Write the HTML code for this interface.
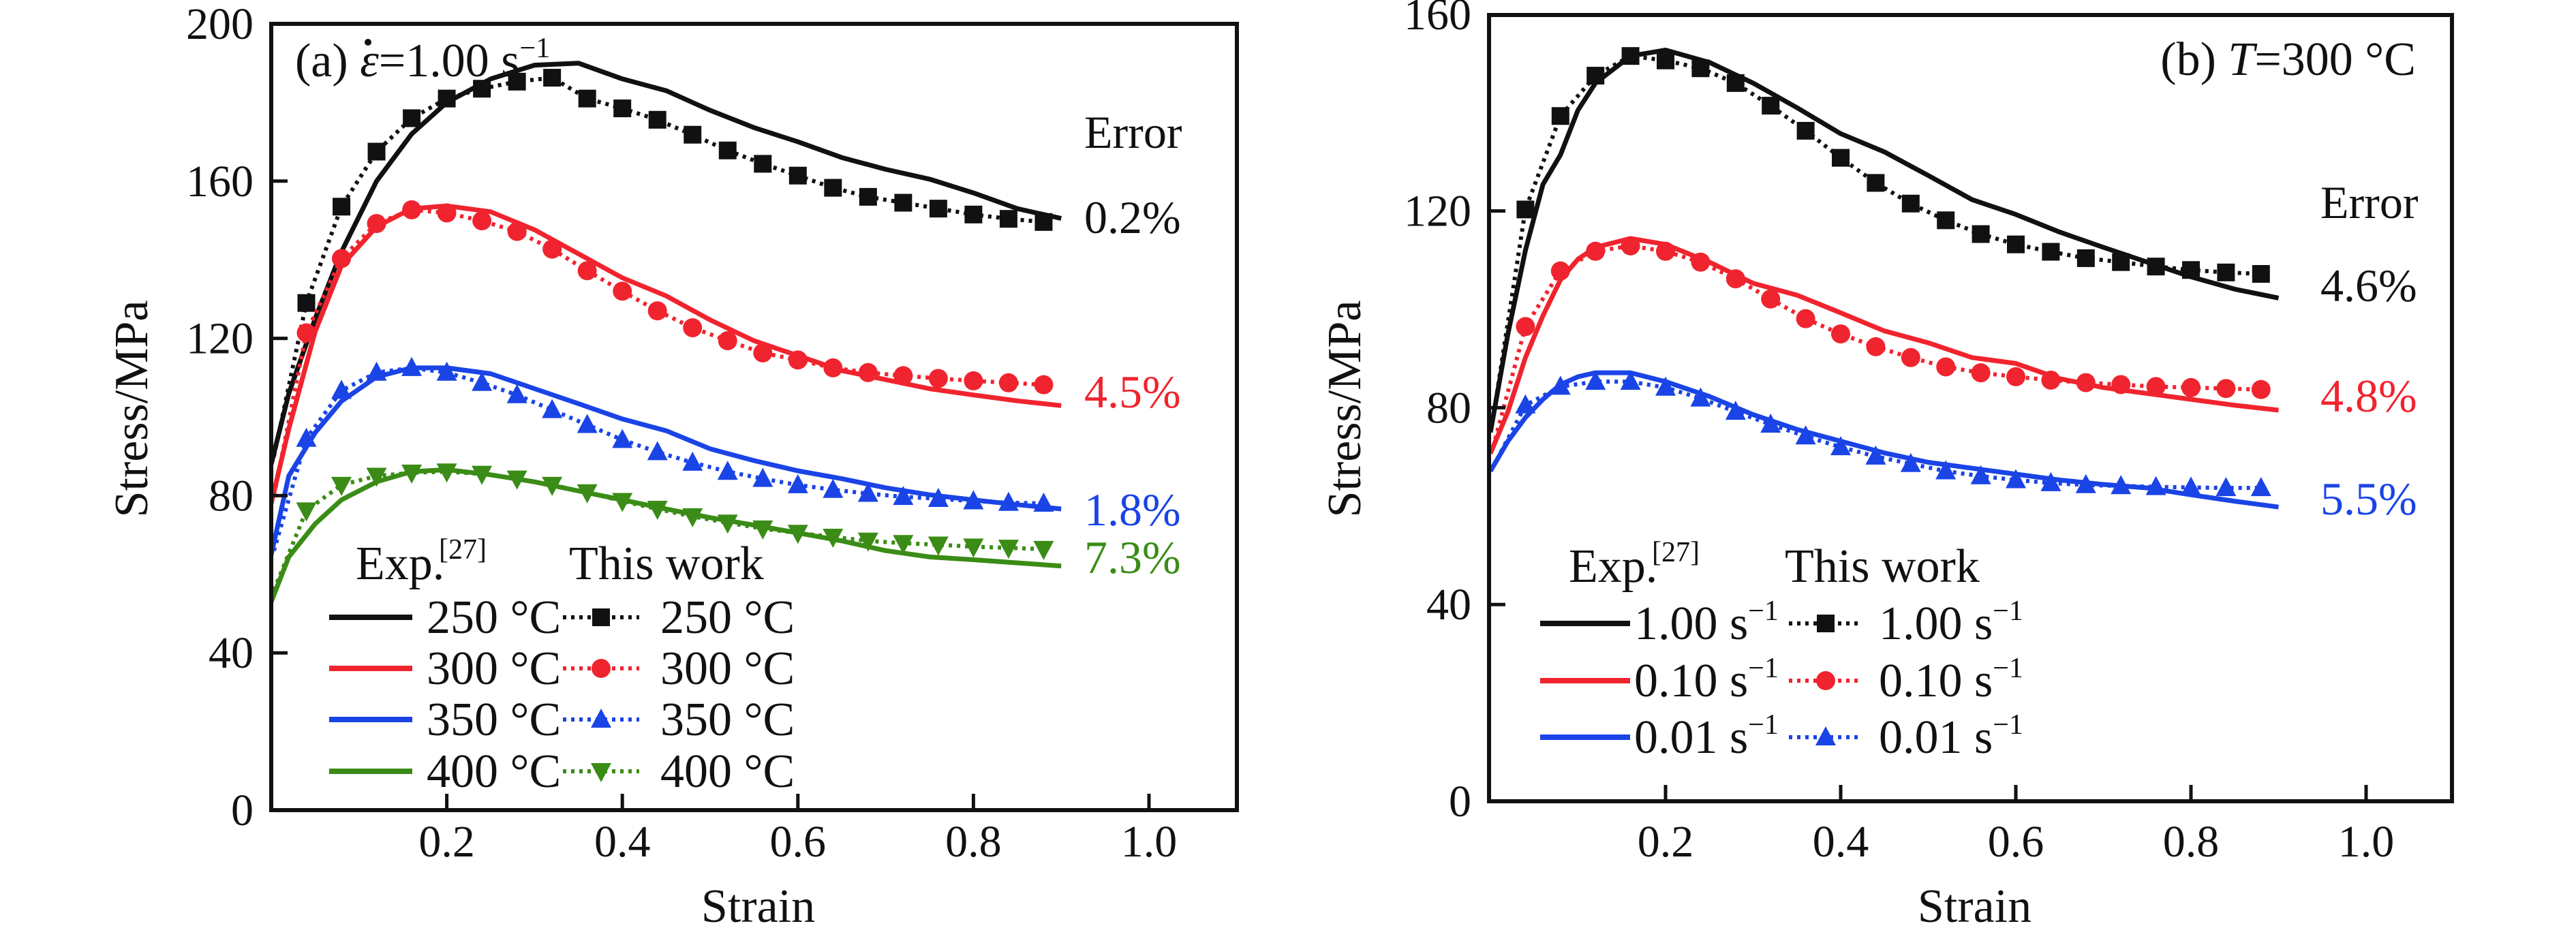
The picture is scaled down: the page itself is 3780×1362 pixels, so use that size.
<!DOCTYPE html>
<html><head><meta charset="utf-8"><style>
html,body{margin:0;padding:0;background:#fff}
svg{display:block}
</style></head><body>
<svg id="chart" width="3780" height="1362" viewBox="0 0 3780 1362" xmlns="http://www.w3.org/2000/svg" font-family="'Liberation Serif', 'Times New Roman', serif"></svg>
<script>
// ---------- Panel (a) data ----------
const expStrainA = [0, 0.02, 0.05, 0.08, 0.12, 0.16, 0.2, 0.25, 0.3, 0.35, 0.4, 0.45, 0.5, 0.55, 0.6, 0.65, 0.7, 0.75, 0.8, 0.85, 0.9];
const exp250 = [88, 106, 125, 142, 160, 172, 180, 186, 189.5, 190, 186, 183, 178, 173.6, 170, 166, 163, 160.5, 157, 153, 150.5];
const exp300 = [78, 97, 121.7, 138.5, 148.4, 153, 153.7, 152.2, 147.6, 141.5, 135.4, 130.8, 124.7, 119.4, 115.6, 111.8, 109.5, 107.2, 105.6, 104.1, 102.9];
const exp350 = [65, 85, 96, 104, 110.2, 112.5, 112.5, 111, 107.2, 103.4, 99.5, 96.5, 91.9, 88.9, 86.3, 84.3, 82, 80.2, 78.9, 77.7, 76.6];
const exp400 = [53, 64.4, 72.8, 78.9, 83.5, 86.1, 86.6, 85.3, 83.5, 81.2, 78.9, 76.6, 74.4, 72.5, 70.5, 68.5, 66, 64.4, 63.7, 62.9, 62.1];
const modelStrain = [0.04, 0.08, 0.12, 0.16, 0.2, 0.24, 0.28, 0.32, 0.36, 0.4, 0.44, 0.48, 0.52, 0.56, 0.6, 0.64, 0.68, 0.72, 0.76, 0.8, 0.84, 0.88];
const model250 = [129, 153.5, 167.5, 176, 181, 183.5, 185.3, 186.3, 181, 178.5, 175.6, 171.8, 167.8, 164.4, 161.4, 158.3, 156, 154.5, 153, 151.5, 150.4, 149.6];
const model300 = [121.4, 140.3, 149.2, 152.7, 151.9, 149.9, 147.2, 142.7, 137.2, 132, 127, 122.7, 119.4, 116.3, 114.5, 112.5, 111.3, 110.5, 109.8, 109.2, 108.7, 108.2];
const model350 = [94.5, 106.7, 111.3, 112.5, 111.3, 108.7, 105.6, 101.8, 98, 94.2, 91.1, 88.4, 86.1, 84.3, 82.7, 81.5, 80.5, 79.7, 79.2, 78.6, 78.2, 78];
const model400 = [76.2, 82.7, 85, 85.8, 86.1, 85.5, 84.3, 82.7, 80.8, 78.6, 76.6, 74.7, 73.1, 71.6, 70.5, 69.5, 68.5, 67.9, 67.5, 67, 66.7, 66.4];
const modelStartA = [90, 80, 66, 56];
const errorsA = ["0.2%", "4.5%", "1.8%", "7.3%"];
const legendA = ["250 °C", "300 °C", "350 °C", "400 °C"];
// ---------- Panel (b) data ----------
const expStrainB = [0, 0.02, 0.04, 0.06, 0.08, 0.1, 0.12, 0.16, 0.2, 0.25, 0.3, 0.35, 0.4, 0.45, 0.5, 0.55, 0.6, 0.65, 0.7, 0.75, 0.8, 0.85, 0.9];
const exp100 = [75, 95, 112, 125.4, 131.4, 140.5, 146, 151.5, 152.7, 150.2, 146, 141, 135.7, 132, 127.2, 122.3, 119.3, 115.7, 112.6, 109.6, 106.6, 104.1, 102.3];
const exp010 = [70.7, 79.2, 90.2, 98.7, 106, 110.2, 112.6, 114.4, 113.2, 109.6, 105.3, 102.9, 99.3, 95.6, 93.2, 90.2, 89, 85.9, 84.1, 82.9, 81.7, 80.5, 79.5];
const exp001 = [67.1, 73.2, 78, 81.7, 84.7, 86.3, 87.1, 87.1, 85.3, 82.3, 78.6, 75.6, 73.2, 70.8, 68.9, 67.7, 66.5, 65.3, 64.4, 63.7, 62.3, 61, 59.8];
const model100 = [120.3, 139.3, 147.5, 151.5, 150.6, 149, 146, 141.4, 136.3, 130.8, 125.7, 121.5, 118.1, 115.3, 113.2, 111.7, 110.4, 109.6, 108.7, 108, 107.5, 107.2];
const model010 = [96.5, 107.8, 111.8, 112.9, 111.8, 109.6, 106.2, 102.1, 98.1, 95, 92.4, 90.2, 88.3, 87.1, 86.3, 85.6, 85.1, 84.7, 84.3, 84.1, 83.9, 83.7];
const model001 = [80.5, 84.3, 85.3, 85.3, 84.1, 81.9, 79.2, 76.6, 74.2, 72, 70.1, 68.6, 67.1, 66.1, 65.3, 64.7, 64.3, 64.1, 63.9, 63.8, 63.7, 63.7];
const modelStartB = [78, 72, 68];
const errorsB = ["4.6%", "4.8%", "5.5%"];
const legendB = ["1.00", "0.10", "0.01"];
const xTicks = [0.2, 0.4, 0.6, 0.8, 1.0];
const xTickLabels = ["0.2", "0.4", "0.6", "0.8", "1.0"];
const yTicksA = [0, 40, 80, 120, 160, 200];
const yTicksB = [0, 40, 80, 120, 160];

const NS = "http://www.w3.org/2000/svg";
const svg = document.getElementById("chart");
const COLORS = ["#111111", "#f0242e", "#1a44e6", "#3a8c16"];
const FONT = "'Liberation Serif', 'Times New Roman', serif";

function mk(tag, attrs, parent, name) {
  const el = document.createElementNS(NS, tag);
  for (const k in attrs) el.setAttribute(k, attrs[k]);
  
  
  (parent || svg).appendChild(el);
  return el;
}
function txt(s, x, y, size, anchor, fill, parent, name) {
  const t = mk("text", {x: x, y: y, "font-size": size, "text-anchor": anchor || "start", fill: fill || "#111", "font-family": FONT}, parent, name);
  t.textContent = s;
  return t;
}
function marker(kind, cx, cy, color, g, name) {
  if (kind === 0) return mk("rect", {x: cx - 13, y: cy - 13, width: 26, height: 26, fill: color}, g, name);
  if (kind === 1) return mk("circle", {cx: cx, cy: cy, r: 14, fill: color}, g, name);
  if (kind === 2) return mk("polygon", {points: `${cx},${cy - 16} ${cx + 15},${cy + 12} ${cx - 15},${cy + 12}`, fill: color}, g, name);
  return mk("polygon", {points: `${cx},${cy + 16} ${cx + 15},${cy - 12} ${cx - 15},${cy - 12}`, fill: color}, g, name);
}

function panel(cfg) {
  const g = mk("g", {}, svg, cfg.name);
  const X = v => cfg.x0 + v * cfg.sx;
  const Y = v => cfg.y0 - v * cfg.sy;
  cfg.series.forEach((s, i) => {
    const col = COLORS[i];
    const pe = s.exp.map((v, j) => `${X(cfg.expX[j]).toFixed(1)},${Y(v).toFixed(1)}`).join(" ");
    mk("polyline", {points: pe, fill: "none", stroke: col, "stroke-width": 7, "stroke-linejoin": "round"}, g, s.key + "-exp-line");
    const pts = [[cfg.x0 + 4, Y(s.start)]].concat(s.model.map((v, j) => [X(modelStrain[j]), Y(v)]));
    mk("polyline", {points: pts.map(p => p[0].toFixed(1) + "," + p[1].toFixed(1)).join(" "), fill: "none", stroke: col, "stroke-width": 6, "stroke-dasharray": "5 7"}, g, s.key + "-model-line");
    s.model.forEach((v, j) => marker(s.mk, X(modelStrain[j]), Y(v), col, g, s.key + "-model-point"));
  });
  mk("rect", {x: cfg.L, y: cfg.T, width: cfg.R - cfg.L, height: cfg.y0 - cfg.T, fill: "none", stroke: "#111", "stroke-width": 6}, g, "plot-frame");
  xTicks.forEach((t, i) => {
    mk("line", {x1: X(t), x2: X(t), y1: cfg.y0, y2: cfg.y0 - 24, stroke: "#111", "stroke-width": 5}, g, "x-tick");
    txt(xTickLabels[i], X(t), 1257, 66, "middle", "#111", g, "x-tick-label");
  });
  cfg.yTicks.forEach(t => {
    if (t > 0 && Y(t) > cfg.T + 5) mk("line", {x1: cfg.L, x2: cfg.L + 24, y1: Y(t), y2: Y(t), stroke: "#111", "stroke-width": 5}, g, "y-tick");
    txt(String(t), cfg.L - 26, Y(t) + 22, 66, "end", "#111", g, "y-tick-label");
  });
  txt("Strain", (cfg.L + cfg.R) / 2 + 6, 1353, 70, "middle", "#111", g, "x-axis-title");
  const yt = txt("Stress/MPa", 0, 0, 70, "middle", "#111", g, "y-axis-title");
  yt.setAttribute("transform", `translate(${cfg.ytx},600) rotate(-90)`);
  txt("Error", cfg.errX, cfg.errorY, 68, "start", "#111", g, "error-header");
  cfg.series.forEach((s, i) => txt(s.err, cfg.errX, s.errY, 68, "start", COLORS[i], g, s.key + "-error-label"));
  txt("Exp.", cfg.lg.expX, cfg.lg.headY, 70, "start", "#111", g, "legend-exp-header");
  txt("[27]", cfg.lg.expX + 122, cfg.lg.headY - 30, 42, "start", "#111", g, "legend-ref");
  txt("This work", cfg.lg.thisX, cfg.lg.headY, 70, "start", "#111", g, "legend-model-header");
  cfg.series.forEach((s, i) => {
    const y = cfg.lg.rows[i], col = COLORS[i];
    mk("line", {x1: cfg.lg.l1, x2: cfg.lg.l2, y1: y, y2: y, stroke: col, "stroke-width": 8}, g, "legend-exp-swatch");
    const a = txt(s.label, cfg.lg.t1, y + 23, 70, "start", "#111", g, "legend-exp-label");
    if (cfg.unit) { const sp = mk("tspan", {dy: -28, "font-size": 42}, a, "legend-unit-exp"); sp.textContent = "−1"; }
    mk("line", {x1: cfg.lg.m1, x2: cfg.lg.m2, y1: y, y2: y, stroke: col, "stroke-width": 6, "stroke-dasharray": "5 7"}, g, "legend-model-swatch");
    marker(s.mk, (cfg.lg.m1 + cfg.lg.m2) / 2, y, col, g, "legend-model-marker");
    const b = txt(s.label, cfg.lg.t2, y + 23, 70, "start", "#111", g, "legend-model-label");
    if (cfg.unit) { const sp = mk("tspan", {dy: -28, "font-size": 42}, b, "legend-unit-model"); sp.textContent = "−1"; }
  });
  return g;
}

const gA = panel({
  name: "panel-a", L: 398, R: 1815, T: 35, x0: 398, y0: 1189, sx: 1288, sy: 5.77, yTicks: yTicksA, ytx: 216,
  expX: expStrainA, errX: 1591, errorY: 217,
  series: [
    {key: "t250", exp: exp250, model: model250, start: modelStartA[0], mk: 0, err: errorsA[0], errY: 342, label: legendA[0]},
    {key: "t300", exp: exp300, model: model300, start: modelStartA[1], mk: 1, err: errorsA[1], errY: 598, label: legendA[1]},
    {key: "t350", exp: exp350, model: model350, start: modelStartA[2], mk: 2, err: errorsA[2], errY: 771, label: legendA[2]},
    {key: "t400", exp: exp400, model: model400, start: modelStartA[3], mk: 3, err: errorsA[3], errY: 841, label: legendA[3]}
  ],
  lg: {expX: 522, thisX: 835, headY: 850, rows: [906, 981, 1056, 1132], l1: 483, l2: 605, t1: 626, m1: 826, m2: 938, t2: 969}
});
const tA = txt("(a) ", 433, 112, 70, "start", "#111", gA, "panel-a-title");
const e1 = mk("tspan", {"font-style": "italic"}, tA, "strain-rate-symbol"); e1.textContent = "ε";
const e2 = mk("tspan", {}, tA, "strain-rate-value"); e2.textContent = "=1.00 s";
const e3 = mk("tspan", {dy: -28, "font-size": 42}, tA, "strain-rate-unit"); e3.textContent = "−1";
mk("circle", {cx: 540, cy: 62, r: 5, fill: "#111"}, gA, "strain-rate-dot");

const gB = panel({
  name: "panel-b", L: 2185, R: 3598, T: 22, x0: 2187, y0: 1176, sx: 1285, sy: 7.22, yTicks: yTicksB, ytx: 1996, unit: true,
  expX: expStrainB, errX: 3405, errorY: 320,
  series: [
    {key: "r100", exp: exp100, model: model100, start: modelStartB[0], mk: 0, err: errorsB[0], errY: 442, label: legendB[0] + " s"},
    {key: "r010", exp: exp010, model: model010, start: modelStartB[1], mk: 1, err: errorsB[1], errY: 604, label: legendB[1] + " s"},
    {key: "r001", exp: exp001, model: model001, start: modelStartB[2], mk: 2, err: errorsB[2], errY: 755, label: legendB[2] + " s"}
  ],
  lg: {expX: 2302, thisX: 2619, headY: 854, rows: [915, 999, 1082], l1: 2260, l2: 2392, t1: 2398, m1: 2625, m2: 2733, t2: 2757}
});
const tB = txt("(b) ", 3545, 110, 70, "end", "#111", gB, "panel-b-title");
const b1 = mk("tspan", {"font-style": "italic"}, tB, "temperature-symbol"); b1.textContent = "T";
const b2 = mk("tspan", {}, tB, "temperature-value"); b2.textContent = "=300 °C";
</script>
</body></html>
